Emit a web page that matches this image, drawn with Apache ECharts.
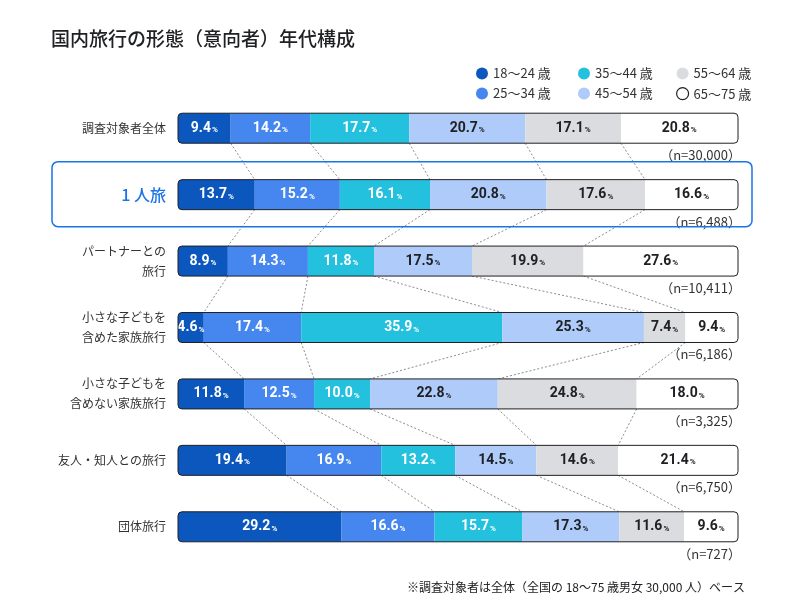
<!DOCTYPE html>
<html>
<head>
<meta charset="utf-8">
<script src="https://cdn.jsdelivr.net/npm/echarts@6/dist/echarts.min.js"></script>
<style>html,body{margin:0;padding:0;background:#fff}#c{width:800px;height:615px}</style>
</head>
<body>
<div id="c"></div>
<script>
const categories = ['調査対象者全体', '1人旅', 'パートナーとの\n旅行', '小さな子どもを\n含めた家族旅行', '小さな子どもを\n含めない家族旅行', '友人・知人との旅行', '団体旅行'];
const nLabels = ['（n=30,000）', '（n=6,488）', '（n=10,411）', '（n=6,186）', '（n=3,325）', '（n=6,750）', '（n=727）'];
const seriesNames = ['18〜24 歳', '25〜34 歳', '35〜44 歳', '45〜54 歳', '55〜64 歳', '65〜75 歳'];
const age18_24 = [9.4, 13.7, 8.9, 4.6, 11.8, 19.4, 29.2];
const age25_34 = [14.2, 15.2, 14.3, 17.4, 12.5, 16.9, 16.6];
const age35_44 = [17.7, 16.1, 11.8, 35.9, 10.0, 13.2, 15.7];
const age45_54 = [20.7, 20.8, 17.5, 25.3, 22.8, 14.5, 17.3];
const age55_64 = [17.1, 17.6, 19.9, 7.4, 24.8, 14.6, 11.6];
const age65_75 = [20.8, 16.6, 27.6, 9.4, 18.0, 21.4, 9.6];
const highlightRow = 1;

const seriesValues = [age18_24, age25_34, age35_44, age45_54, age55_64, age65_75];
const colors = ['#0b57bd', '#4586ef', '#24c1df', '#aecbfa', '#dadce0', '#ffffff'];
const labelColors = ['#ffffff', '#ffffff', '#ffffff', '#202124', '#202124', '#202124'];
const BAR_H = 30;

// cumulative boundaries per row
const cum = categories.map((_, r) => {
  let s = 0; const out = [0];
  seriesValues.forEach(arr => { s += arr[r]; out.push(+s.toFixed(2)); });
  return out;
});
const connectorData = [];
for (let r = 0; r < categories.length - 1; r++) {
  for (let k = 1; k <= 5; k++) connectorData.push([cum[r][k], r, cum[r + 1][k]]);
}

const barSeries = seriesValues.map((arr, i) => ({
  name: seriesNames[i],
  type: 'bar',
  stack: 'total',
  barWidth: BAR_H,
  data: arr,
  itemStyle: {
    color: colors[i],
    borderRadius: i === 0 ? [4, 0, 0, 4] : (i === 5 ? [0, 4, 4, 0] : 0)
  },
  label: {
    show: true,
    position: 'inside',
    formatter: p => '{v|' + p.value.toFixed(1) + '}{p|%}',
    rich: {
      v: { fontFamily: 'Roboto', fontSize: 14, fontWeight: 'bold', color: labelColors[i] },
      p: { fontFamily: 'Roboto', fontSize: 8, fontWeight: 'bold', color: labelColors[i], padding: [4, 0, 0, 1] }
    }
  },
  emphasis: { disabled: true },
  z: 2
}));

const chart = echarts.init(document.getElementById('c'), null, { renderer: 'canvas' });
const legendBase = {
  orient: 'vertical',
  top: 62,
  itemWidth: 12,
  itemHeight: 12,
  itemGap: 7,
  icon: 'circle',
  selectedMode: false,
  textStyle: { fontSize: 13, color: '#333', fontFamily: '"Noto Sans CJK JP", Roboto' }
};
chart.setOption({
  animation: false,
  backgroundColor: '#ffffff',
  title: [{
    text: '国内旅行の形態（意向者）年代構成',
    left: 46, top: 24,
    textStyle: { fontSize: 19, fontWeight: 500, color: '#202124', fontFamily: '"Noto Sans CJK JP"' }
  }, {
    text: '※調査対象者は全体（全国の 18〜75 歳男女 30,000 人）ベース',
    right: 50, top: 576,
    textStyle: { fontSize: 12, fontWeight: 'normal', color: '#202124', fontFamily: '"Noto Sans CJK JP"' }
  }],
  legend: [
    Object.assign({}, legendBase, { left: 471, data: [seriesNames[0], seriesNames[1]] }),
    Object.assign({}, legendBase, { left: 573, data: [seriesNames[2], seriesNames[3]] }),
    Object.assign({}, legendBase, { left: 671, data: [seriesNames[4], { name: seriesNames[5], itemStyle: { borderColor: '#202124', borderWidth: 1.2 } }] })
  ],
  grid: { left: 178, right: 62, top: 95, bottom: 55 },
  xAxis: { type: 'value', min: 0, max: 100, show: false },
  yAxis: {
    type: 'category',
    inverse: true,
    data: categories,
    axisLine: { show: false },
    axisTick: { show: false },
    axisLabel: {
      margin: 12,
      fontSize: 12,
      lineHeight: 20,
      color: '#333',
      fontFamily: '"Noto Sans CJK JP"',
      formatter: (v, i) => i === highlightRow ? '{hl|' + v.replace('1', '1 ') + '}' : v,
      rich: { hl: { fontSize: 16, color: '#1a73e8', fontWeight: 500, fontFamily: '"Noto Sans CJK JP"' } }
    }
  },
  series: barSeries.concat([
    {
      name: 'outline',
      type: 'custom',
      data: categories.map((_, i) => [0, i]),
      encode: { x: 0, y: 1 },
      silent: true,
      z: 5,
      renderItem: (params, api) => {
        const r = api.value(1);
        const p0 = api.coord([0, r]);
        const p1 = api.coord([100, r]);
        const children = [
          { type: 'rect', shape: { x: p0[0], y: p0[1] - BAR_H / 2, width: p1[0] - p0[0], height: BAR_H, r: 4 },
            style: { fill: 'none', stroke: '#202124', lineWidth: 1 } },
          { type: 'text', style: { text: nLabels[r], x: p1[0] + 3, y: p0[1] + BAR_H / 2 + 12, align: 'right', verticalAlign: 'middle',
            fill: '#333', font: '13px "Noto Sans CJK JP"' } }
        ];
        if (r === highlightRow) {
          children.push({ type: 'rect', shape: { x: p0[0] - 126, y: p0[1] - 33, width: p1[0] - p0[0] + 140, height: 65, r: 6 },
            style: { fill: 'none', stroke: '#1a73e8', lineWidth: 1.5 } });
        }
        return { type: 'group', children };
      }
    },
    {
      name: 'connectors',
      type: 'custom',
      data: connectorData,
      encode: { x: [0, 2], y: 1 },
      silent: true,
      z: 1,
      renderItem: (params, api) => {
        const r = api.value(1);
        const a = api.coord([api.value(0), r]);
        const b = api.coord([api.value(2), r + 1]);
        return { type: 'line', shape: { x1: a[0], y1: a[1] + BAR_H / 2, x2: b[0], y2: b[1] - BAR_H / 2 },
          style: { stroke: '#6f6f6f', lineWidth: 0.8, lineDash: [2, 2] } };
      }
    }
  ])
});
</script>
</body>
</html>
